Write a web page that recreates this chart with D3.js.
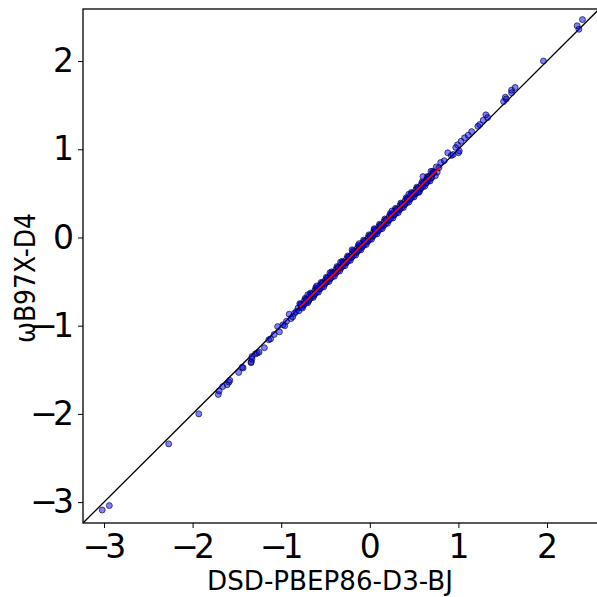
<!DOCTYPE html>
<html>
<head>
<meta charset="utf-8">
<script src="https://cdn.jsdelivr.net/npm/d3@7"></script>
<style>
  body { margin: 0; background: #fff; }
  svg { display: block; font-family: "DejaVu Sans", sans-serif; }
</style>
</head>
<body>
<div id="chart"></div>
<script>
// energies, reference method (x) vs. omegaB97X-D4 (y)
const refX = [
  -3.02, -2.94, -2.27, -1.93, -1.71, -1.70, -1.66, -1.61, -1.59, -1.58,
  -1.48, -1.43, -1.44, -1.34, -1.34, -1.33, -1.33, -1.29, -1.27, -1.25,
  -1.19, -1.14, -1.12, -1.08, -1.04, -1.02, -0.98, -0.96, -0.94, -0.91,
  -0.89, -0.87, -0.85, -0.83,
  -0.81, -0.80, -0.78, -0.77, -0.75, -0.74, -0.72, -0.71, -0.69, -0.68,
  -0.66, -0.65, -0.63, -0.62, -0.60, -0.59, -0.57, -0.56, -0.54, -0.53,
  -0.51, -0.50, -0.48, -0.47, -0.45, -0.44, -0.42, -0.41, -0.39, -0.38,
  -0.36, -0.35, -0.33, -0.32, -0.30, -0.29, -0.27, -0.26, -0.24, -0.23,
  -0.21, -0.20, -0.18, -0.17, -0.15, -0.14, -0.12, -0.11, -0.09, -0.08,
  -0.06, -0.05, -0.03, -0.02, 0.00, 0.01, 0.03, 0.04, 0.06, 0.07,
  0.09, 0.10, 0.12, 0.13, 0.15, 0.16, 0.18, 0.19, 0.21, 0.22,
  0.24, 0.25, 0.27, 0.28, 0.30, 0.31, 0.33, 0.34, 0.36, 0.37,
  0.39, 0.40, 0.42, 0.43, 0.45, 0.46, 0.48, 0.49, 0.51, 0.52,
  0.54, 0.55, 0.57, 0.58, 0.60, 0.61, 0.63, 0.64, 0.66, 0.67,
  0.69, 0.70,
  -0.79, -0.73, -0.67, -0.61, -0.55, -0.49, -0.43, -0.37, -0.31, -0.25,
  -0.19, -0.13, -0.07, -0.01, 0.05, 0.11, 0.17, 0.23, 0.29, 0.35,
  0.41, 0.47, 0.53, 0.59, 0.65, 0.71,
  -0.76, -0.70, -0.64, -0.58, -0.52, -0.46, -0.40, -0.34, -0.28, -0.22,
  -0.16, -0.10, -0.04, 0.02, 0.08, 0.14, 0.20, 0.26, 0.32, 0.38,
  0.44, 0.50, 0.56, 0.62, 0.68, 0.74,
  -0.78, -0.72, -0.66, -0.60, -0.54, -0.48, -0.42, -0.36, -0.30, -0.24,
  -0.18, -0.12, -0.06, 0.00, 0.06, 0.12, 0.18, 0.24, 0.30, 0.36,
  0.42, 0.48, 0.54, 0.60, 0.66, 0.72,
  -0.74, -0.68, -0.62, -0.56, -0.50, -0.44, -0.38, -0.32, -0.26, -0.20,
  -0.14, -0.08, -0.02, 0.04, 0.10, 0.16, 0.22, 0.28, 0.34, 0.40,
  0.46, 0.52, 0.58, 0.64, 0.70, 0.76,
  -0.45, -0.20, 0.05, -0.60, 0.25, -0.70, -0.33, 0.44, 0.55, -0.12,
  0.60, 0.65, 0.69, 0.72, 0.75, 0.78, 0.80, 0.84, 0.88, 0.92,
  0.94, 0.97, 0.99, 1.00, 1.01, 1.03, 1.07, 1.11, 1.15, 1.22,
  1.24, 1.28, 1.31, 1.33, 1.51, 1.53, 1.54, 1.60, 1.60, 1.64,
  1.96, 2.34, 2.36, 2.40
];
const wb97xY = [
  -3.09, -3.04, -2.34, -2.00, -1.78, -1.74, -1.69, -1.67, -1.64, -1.62,
  -1.53, -1.48, -1.47, -1.42, -1.41, -1.38, -1.35, -1.32, -1.31, -1.30,
  -1.25, -1.16, -1.15, -1.10, -1.01, -1.07, -0.99, -1.00, -0.95, -0.87,
  -0.92, -0.90, -0.86, -0.84,
  -0.80, -0.83, -0.76, -0.79, -0.77, -0.72, -0.74, -0.70, -0.72, -0.66,
  -0.68, -0.64, -0.66, -0.60, -0.62, -0.58, -0.59, -0.54, -0.56, -0.51,
  -0.53, -0.48, -0.50, -0.46, -0.47, -0.42, -0.44, -0.40, -0.41, -0.36,
  -0.38, -0.34, -0.35, -0.30, -0.32, -0.28, -0.29, -0.24, -0.26, -0.22,
  -0.23, -0.18, -0.20, -0.16, -0.17, -0.12, -0.14, -0.10, -0.11, -0.06,
  -0.08, -0.04, -0.05, 0.00, -0.02, 0.02, 0.01, 0.06, 0.04, 0.08,
  0.07, 0.12, 0.10, 0.14, 0.13, 0.18, 0.16, 0.20, 0.19, 0.24,
  0.22, 0.26, 0.25, 0.30, 0.28, 0.32, 0.31, 0.36, 0.34, 0.38,
  0.37, 0.42, 0.40, 0.44, 0.43, 0.48, 0.46, 0.50, 0.49, 0.54,
  0.52, 0.56, 0.55, 0.60, 0.58, 0.62, 0.61, 0.66, 0.64, 0.69,
  0.67, 0.72,
  -0.75, -0.69, -0.63, -0.57, -0.51, -0.45, -0.39, -0.33, -0.27, -0.21,
  -0.15, -0.09, -0.03, 0.03, 0.09, 0.15, 0.21, 0.27, 0.33, 0.39,
  0.45, 0.51, 0.57, 0.63, 0.69, 0.75,
  -0.80, -0.74, -0.68, -0.62, -0.56, -0.50, -0.44, -0.38, -0.32, -0.26,
  -0.20, -0.14, -0.08, -0.02, 0.04, 0.10, 0.16, 0.22, 0.28, 0.34,
  0.40, 0.46, 0.52, 0.58, 0.64, 0.70,
  -0.76, -0.70, -0.64, -0.58, -0.52, -0.46, -0.40, -0.34, -0.28, -0.22,
  -0.16, -0.10, -0.04, 0.02, 0.08, 0.14, 0.20, 0.26, 0.32, 0.38,
  0.44, 0.50, 0.56, 0.62, 0.68, 0.74,
  -0.76, -0.70, -0.64, -0.58, -0.52, -0.46, -0.40, -0.34, -0.28, -0.22,
  -0.16, -0.10, -0.04, 0.02, 0.08, 0.14, 0.20, 0.26, 0.32, 0.38,
  0.44, 0.50, 0.56, 0.62, 0.68, 0.74,
  -0.40, -0.14, 0.10, -0.55, 0.30, -0.65, -0.28, 0.49, 0.51, -0.07,
  0.69, 0.66, 0.75, 0.73, 0.80, 0.79, 0.85, 0.87, 0.96, 0.93,
  0.94, 1.02, 1.05, 0.96, 0.98, 1.09, 1.13, 1.16, 1.20, 1.26,
  1.28, 1.33, 1.39, 1.36, 1.54, 1.59, 1.57, 1.64, 1.67, 1.70,
  2.00, 2.40, 2.36, 2.47
];
// red subset
const redX = [-0.79, -0.60, -0.40, -0.20, 0.00, 0.20, 0.40, 0.60, 0.79];
const redY = [-0.79, -0.60, -0.41, -0.20, 0.00, 0.21, 0.40, 0.61, 0.79];

const xTicks = [-3, -2, -1, 0, 1, 2];
const yTicks = [-3, -2, -1, 0, 1, 2];
const xLabel = "DSD-PBEP86-D3-BJ";
const yLabel = "ωB97X-D4";

const width = 597, height = 597;
const mLeft = 83, mTop = 9, mRight = 600, mBottom = 523;
const lo = -3.237, hi = 2.59;

const x = d3.scaleLinear().domain([lo, 2.598]).range([mLeft, mRight]);
const y = d3.scaleLinear().domain([lo, hi]).range([mBottom, mTop]);

const svg = d3.select("#chart").append("svg")
  .attr("width", width).attr("height", height);

svg.append("defs").append("clipPath").attr("id", "clip")
  .append("rect").attr("x", mLeft).attr("y", mTop)
  .attr("width", mRight - mLeft).attr("height", mBottom - mTop);

const plot = svg.append("g").attr("clip-path", "url(#clip)");

// y = x reference line
plot.append("line")
  .attr("x1", x(-4)).attr("y1", y(-4))
  .attr("x2", x(3)).attr("y2", y(3))
  .attr("stroke", "#000").attr("stroke-width", 1.3);

const pts = refX.map((v, i) => [v, wb97xY[i]]);
plot.selectAll(".pt").data(pts).enter().append("circle")
  .attr("class", "pt")
  .attr("cx", d => x(d[0])).attr("cy", d => y(d[1]))
  .attr("r", 3)
  .attr("fill", "rgba(0,0,255,0.5)")
  .attr("stroke", "rgba(0,0,40,0.7)")
  .attr("stroke-width", 0.9);

const redPts = redX.map((v, i) => [v, redY[i]]);
plot.append("path")
  .datum(redPts)
  .attr("d", d3.line().x(d => x(d[0])).y(d => y(d[1])))
  .attr("fill", "none").attr("stroke", "#ff0000").attr("stroke-width", 1.8);

// axes
const fmt = d => d < 0 ? "\u2212" + Math.abs(d) : d;
const ls = -5; // tighten minus sign against the digit
const xAxis = svg.append("g").attr("transform", `translate(0,${mBottom})`)
  .call(d3.axisBottom(x).tickValues(xTicks).tickSize(5).tickPadding(7).tickFormat(fmt));
const yAxis = svg.append("g").attr("transform", `translate(${mLeft},0)`)
  .call(d3.axisLeft(y).tickValues(yTicks).tickSize(5).tickPadding(4).tickFormat(fmt));
[xAxis, yAxis].forEach(a => {
  a.select(".domain").remove();
  a.selectAll("line").attr("stroke", "#000").attr("stroke-width", 1);
  a.selectAll("text")
    .attr("font-size", 33).attr("fill", "#000").attr("font-family", "DejaVu Sans");
});
xAxis.selectAll("text").filter(d => d < 0)
  .attr("letter-spacing", ls).attr("dx", ls / 2);
yAxis.selectAll("text").filter(d => d < 0)
  .attr("letter-spacing", ls).attr("x", -9 + ls);

// spines
svg.append("rect")
  .attr("x", mLeft).attr("y", mTop)
  .attr("width", mRight - mLeft).attr("height", mBottom - mTop)
  .attr("fill", "none").attr("stroke", "#000").attr("stroke-width", 1.3);

svg.append("text")
  .attr("x", 330).attr("y", 590)
  .attr("text-anchor", "middle")
  .attr("font-size", 27)
  .attr("textLength", 246).attr("lengthAdjust", "spacingAndGlyphs")
  .text(xLabel);

svg.append("text")
  .attr("transform", "translate(35,278) rotate(-90)")
  .attr("text-anchor", "middle")
  .attr("font-size", 29)
  .attr("textLength", 130).attr("lengthAdjust", "spacingAndGlyphs")
  .text(yLabel);
</script>
</body>
</html>
